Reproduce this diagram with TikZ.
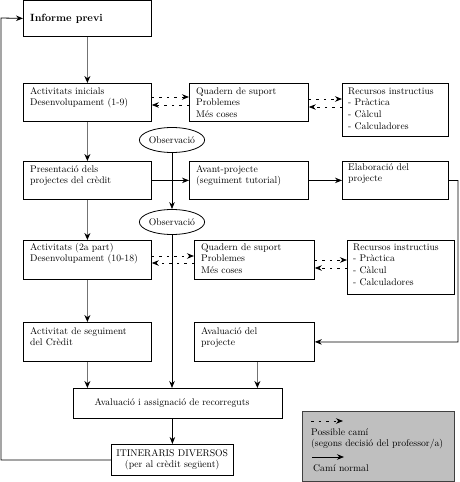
\documentclass[tikz,border=0pt]{standalone}
\usetikzlibrary{arrows.meta,shapes.geometric}
\newcommand{\mylines}[1]{\parbox[t]{150pt}{#1}}
\begin{document}
\begin{tikzpicture}[x=1pt,y=-1pt,
  box/.style={draw=black, line width=0.8pt, anchor=north west, inner sep=0pt},
  txt/.style={anchor=base west, inner sep=0pt, font=\fontsize{9.7}{11.7}\selectfont},
  obs/.style={ellipse, draw=black, line width=0.8pt, minimum width=62pt, minimum height=25pt, inner sep=0pt, font=\fontsize{9.7}{11.7}\selectfont},
  greyarrow/.style={draw=black!55, line width=1.8pt, -{Stealth[black,length=7pt,width=6pt]}},
  thinarrow/.style={draw=black, line width=0.8pt, -{Stealth[length=7pt,width=5.5pt]}},
  dasharrow/.style={draw=black, line width=0.8pt, dash pattern=on 2.5pt off 5pt, -{Stealth[length=7pt,width=5.5pt]}}
]
\useasboundingbox (0,0) rectangle (459,482);

% boxes
\node[box, minimum width=128pt, minimum height=36pt] (ip) at (23,0) {};
\node[box, minimum width=128pt, minimum height=38pt] (ai) at (23,83) {};
\node[box, minimum width=119pt, minimum height=38pt] (q1) at (189,83) {};
\node[box, minimum width=106pt, minimum height=53pt] (r1) at (342,83) {};
\node[box, minimum width=128pt, minimum height=38pt] (pr) at (23,161) {};
\node[box, minimum width=119pt, minimum height=38pt] (av) at (189,161) {};
\node[box, minimum width=106pt, minimum height=38pt] (el) at (342,161) {};
\node[box, minimum width=128pt, minimum height=39pt] (a2) at (23,240) {};
\node[box, minimum width=120pt, minimum height=39pt] (q2) at (194,240) {};
\node[box, minimum width=107pt, minimum height=54pt] (r2) at (347,240) {};
\node[box, minimum width=128pt, minimum height=39pt] (as) at (23,322) {};
\node[box, minimum width=120pt, minimum height=39pt] (ap) at (194,322) {};
\node[box, minimum width=209pt, minimum height=30pt] (ev) at (73,388) {};
\node[box, minimum width=122pt, minimum height=31pt] (it) at (111,444) {};
\node[box, fill=gray!50, draw=black!75, minimum width=152pt, minimum height=70pt] (lg) at (302,411) {};

\node[obs] (o1) at (172,140) {Observació};
\node[obs] (o2) at (172,222) {Observació};

% texts
\node[txt, font=\fontsize{10.5}{12}\selectfont\bfseries] (ipT) at (30,21) {Informe previ};
\node[txt] (aiT) at (30,94) {\mylines{Activitats inicials\\Desenvolupament (1-9)}};
\node[txt] (q1T) at (196,94) {\mylines{Quadern de suport\\Problemes\\Més coses}};
\node[txt] (r1T) at (348,94) {\mylines{Recursos instructius\\- Pràctica\\- Càlcul\\- Calculadores}};
\node[txt] (prT) at (30,172) {\mylines{Presentació dels\\projectes del crèdit}};
\node[txt] (avT) at (196,172) {\mylines{Avant-projecte\\(seguiment tutorial)}};
\node[txt] (elT) at (348,170) {\mylines{Elaboració del\\projecte}};
\node[txt] (a2T) at (30,250) {\mylines{Activitats (2a part)\\Desenvolupament (10-18)}};
\node[txt] (q2T) at (201,250) {\mylines{Quadern de suport\\Problemes\\Més coses}};
\node[txt] (r2T) at (353,250) {\mylines{Recursos instructius\\- Pràctica\\- Càlcul\\- Calculadores}};
\node[txt] (asT) at (30,334) {\mylines{Activitat de seguiment\\del Crèdit}};
\node[txt] (apT) at (201,334) {\mylines{Avaluació del\\projecte}};
\node[txt, anchor=base] (evT) at (172,405) {Avaluació i assignació de recorreguts};
\node[txt] (itT) at (111,456) {\parbox[t]{122pt}{\centering ITINERARIS DIVERSOS\\(per al crèdit següent)}};
\node[txt] (lg1) at (311,435) {Possible camí};
\node[txt] (lg2) at (311,446) {(segons decisió del professor/a)};
\node[txt] (lg3) at (313,471) {Camí normal};

% grey main arrows
\draw[greyarrow] (ip.south) -- (ai.north);
\draw[greyarrow] (ai.south) -- (pr.north);
\draw[greyarrow] (pr.south) -- (a2.north);
\draw[greyarrow] (a2.south) -- (as.north);
\draw[greyarrow] (as.south) -- (as.south |- ev.north);
\draw[greyarrow] ([xshift=3pt]ap.south) -- ([xshift=3pt]ap.south |- ev.north);

% thin arrows
\draw[thinarrow] (pr.east) -- (av.west);
\draw[thinarrow] (av.east) -- (el.west);
\draw[thinarrow] (o1.south) -- (o2.north);
\draw[thinarrow] (o2.south) -- (o2.south |- ev.north);
\draw[thinarrow] (ev.south -| it.north) -- (it.north);
\draw[thinarrow] (el.east) -| (458,342) -- (ap.east);
\draw[thinarrow] (it.west) -| (1,18) -- (ip.west);

% dashed arrows
\draw[dasharrow] (ai.east |- 0,97) -- (q1.west |- 0,97);
\draw[dasharrow] (q1.west |- 0,105) -- (ai.east |- 0,105);
\draw[dasharrow] (q1.east |- 0,99) -- (r1.west |- 0,99);
\draw[dasharrow] (r1.west |- 0,107) -- (q1.east |- 0,107);
\draw[dasharrow] (a2.east |- 0,256) -- (q2.west |- 0,256);
\draw[dasharrow] (q2.west |- 0,263) -- (a2.east |- 0,263);
\draw[dasharrow] (q2.east |- 0,260) -- (r2.west |- 0,260);
\draw[dasharrow] (r2.west |- 0,268) -- (q2.east |- 0,268);

% legend arrows
\coordinate (ld1) at (311,421);
\coordinate (ld2) at (343,421);
\coordinate (ls1) at (312,457);
\coordinate (ls2) at (344,457);
\draw[dasharrow] (ld1) -- (ld2);
\draw[thinarrow] (ls1) -- (ls2);
\end{tikzpicture}
\end{document}
